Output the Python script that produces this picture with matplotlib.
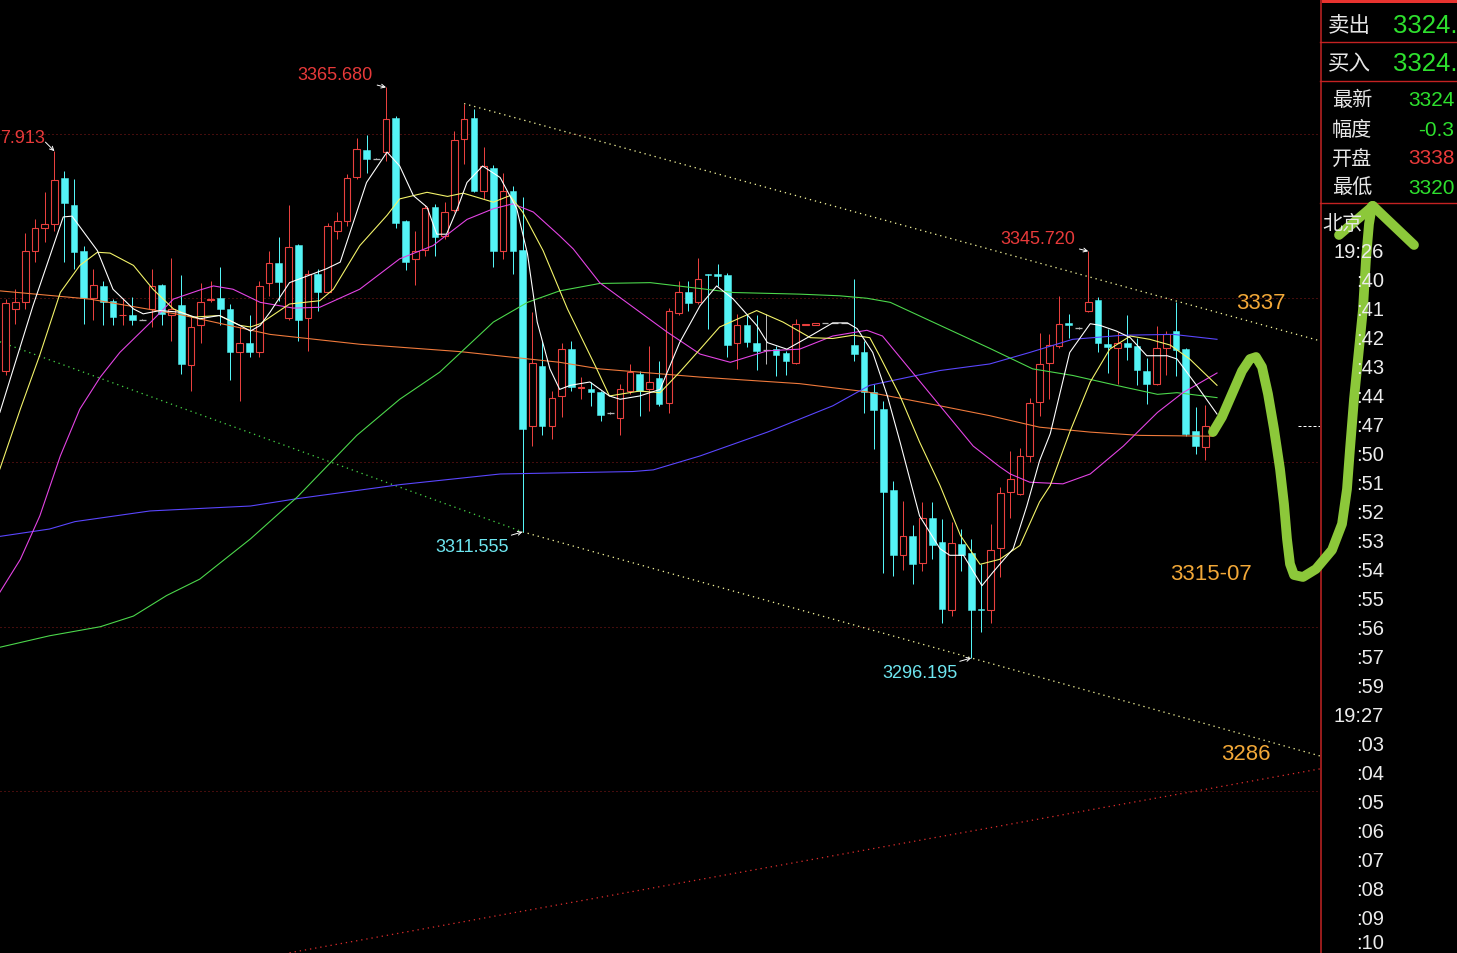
import matplotlib
matplotlib.use("Agg")
import matplotlib.pyplot as plt
import numpy as np

plt.rcParams['font.family'] = ['Liberation Sans', 'Noto Sans CJK SC', 'DejaVu Sans']

# ---------------- candle data (one bar per minute slot) ----------------
opens = [3331.1, 3338.7, 3339.5, 3345.8, 3348.6, 3349.0, 3354.6, 3351.4, 3345.7, 3340.0,
         3341.5, 3339.7, 3337.9, 3338.0, 3337.4, 3338.7, 3341.6, 3338.0, 3339.2, 3331.9,
         3336.7, 3339.8, 3340.0, 3338.7, 3333.4, 3334.6, 3333.4, 3341.9, 3344.3, 3337.6,
         3346.5, 3337.6, 3343.0, 3340.8, 3348.2, 3349.4, 3354.8, 3358.1, 3357.0, 3357.8,
         3361.9, 3349.4, 3344.8, 3345.9, 3351.1, 3347.6, 3350.7, 3359.4, 3362.0, 3353.0,
         3355.9, 3345.7, 3353.0, 3345.9, 3324.5, 3331.8, 3324.4, 3328.1, 3333.8, 3329.1,
         3329.0, 3328.6, 3326.0, 3325.4, 3328.7, 3330.8, 3328.9, 3330.3, 3327.2, 3338.2,
         3340.8, 3339.6, 3342.9, 3342.9, 3342.8, 3334.5, 3336.8, 3334.5, 3333.7, 3333.8,
         3333.3, 3332.1, 3336.8, 3336.8, 3337.0, 3337.0, 3337.0, 3334.3, 3333.5, 3328.6,
         3326.5, 3316.6, 3308.7, 3311.0, 3307.8, 3313.2, 3310.3, 3302.0, 3310.1, 3309.0,
         3302.1, 3302.0, 3309.6, 3316.4, 3316.2, 3320.8, 3327.4, 3332.1, 3334.2, 3337.0,
         3336.4, 3338.4, 3339.8, 3334.4, 3334.0, 3334.5, 3334.2, 3331.2, 3329.6, 3333.9,
         3336.0, 3333.8, 3323.8, 3321.9]

highs = [3339.9, 3341.1, 3348.0, 3349.6, 3352.9, 3357.913, 3355.5, 3354.5, 3346.4, 3343.6,
         3342.1, 3339.9, 3340.0, 3340.2, 3337.5, 3343.6, 3341.7, 3344.9, 3342.8, 3337.7,
         3341.9, 3342.1, 3343.8, 3339.3, 3336.5, 3337.9, 3342.1, 3345.7, 3347.5, 3351.3,
         3346.6, 3343.5, 3343.6, 3349.2, 3350.5, 3355.1, 3359.5, 3359.9, 3357.1, 3365.680,
         3362.2, 3349.5, 3348.2, 3351.3, 3351.5, 3351.7, 3360.4, 3363.7, 3363.0, 3358.4,
         3356.2, 3355.3, 3353.7, 3352.3, 3338.3, 3334.8, 3328.7, 3334.6, 3334.8, 3330.4,
         3329.8, 3328.7, 3326.1, 3329.6, 3332.0, 3331.1, 3334.2, 3332.4, 3338.8, 3342.1,
         3342.1, 3344.9, 3343.0, 3344.2, 3343.1, 3338.1, 3338.1, 3337.9, 3338.1, 3334.2,
         3333.6, 3337.5, 3336.9, 3337.0, 3337.0, 3337.0, 3337.0, 3342.3, 3334.8, 3329.6,
         3327.5, 3317.8, 3315.3, 3312.4, 3315.2, 3315.2, 3313.1, 3312.7, 3311.9, 3310.7,
         3307.6, 3312.5, 3317.0, 3321.4, 3321.8, 3327.9, 3335.8, 3335.6, 3340.3, 3338.1,
         3336.5, 3345.720, 3340.1, 3336.3, 3335.9, 3337.9, 3335.2, 3332.7, 3336.6, 3336.0,
         3339.5, 3334.0, 3326.8, 3327.0]

lows = [3330.6, 3336.9, 3338.7, 3344.4, 3346.8, 3348.2, 3344.4, 3343.6, 3336.9, 3337.3,
        3336.7, 3336.7, 3336.7, 3336.7, 3337.3, 3336.5, 3336.7, 3334.8, 3330.8, 3328.7,
        3334.6, 3339.6, 3336.7, 3330.0, 3327.5, 3332.8, 3332.8, 3340.3, 3339.7, 3337.3,
        3334.8, 3333.6, 3338.5, 3340.7, 3347.2, 3348.8, 3354.5, 3355.3, 3356.9, 3356.7,
        3348.5, 3343.4, 3341.6, 3345.2, 3345.2, 3347.2, 3350.5, 3356.3, 3352.9, 3352.1,
        3343.8, 3344.8, 3343.0, 3311.555, 3322.0, 3323.3, 3322.8, 3325.5, 3328.7, 3327.7,
        3326.9, 3325.1, 3325.9, 3323.3, 3328.3, 3325.7, 3326.3, 3326.9, 3326.0, 3337.9,
        3338.4, 3339.3, 3336.3, 3341.5, 3332.8, 3331.4, 3334.1, 3331.3, 3332.0, 3330.5,
        3330.7, 3332.0, 3336.8, 3336.8, 3337.0, 3337.0, 3337.0, 3332.4, 3326.0, 3321.6,
        3306.5, 3306.2, 3306.9, 3305.2, 3306.8, 3308.3, 3300.5, 3301.3, 3306.8, 3296.195,
        3299.4, 3300.5, 3306.0, 3313.2, 3316.0, 3320.0, 3325.7, 3327.7, 3334.0, 3335.2,
        3336.3, 3338.3, 3333.5, 3330.9, 3329.6, 3332.5, 3329.4, 3327.1, 3329.4, 3330.6,
        3330.5, 3323.2, 3321.0, 3320.3]

closes = [3339.4, 3339.5, 3345.7, 3348.6, 3349.0, 3354.4, 3351.6, 3345.6, 3340.0, 3341.6,
          3339.6, 3337.7, 3338.0, 3337.3, 3337.4, 3341.5, 3338.1, 3338.7, 3332.0, 3336.5,
          3339.6, 3339.9, 3338.7, 3333.4, 3334.5, 3333.4, 3341.5, 3344.3, 3342.0, 3346.3,
          3337.3, 3343.0, 3340.8, 3348.8, 3349.4, 3354.7, 3358.2, 3357.0, 3357.0, 3361.8,
          3349.2, 3344.4, 3345.7, 3351.0, 3347.4, 3350.5, 3359.3, 3361.8, 3353.0, 3356.1,
          3345.7, 3353.0, 3345.8, 3324.1, 3332.1, 3324.5, 3327.9, 3333.8, 3329.2, 3329.2,
          3328.6, 3325.8, 3326.0, 3328.9, 3331.0, 3328.7, 3329.8, 3327.1, 3338.4, 3340.8,
          3339.4, 3342.3, 3342.8, 3342.7, 3334.3, 3336.7, 3334.7, 3333.6, 3333.7, 3333.1,
          3332.3, 3336.9, 3336.9, 3337.0, 3337.0, 3337.0, 3337.0, 3333.2, 3328.6, 3326.4,
          3316.4, 3308.7, 3311.0, 3307.6, 3313.2, 3309.9, 3302.1, 3310.2, 3308.7, 3302.0,
          3302.0, 3309.4, 3316.3, 3318.0, 3320.8, 3327.2, 3332.0, 3334.3, 3336.9, 3336.8,
          3336.4, 3339.6, 3334.6, 3334.1, 3334.6, 3334.1, 3331.3, 3329.6, 3334.0, 3335.6,
          3333.7, 3323.5, 3322.0, 3324.4]

# ---------------- moving averages (bar position, value) ----------------
ma5_x = [-0.6, 2.8, 5.9, 6.8, 9.4, 11.0, 13.1, 14.1, 15.8, 17.9, 19.9, 21.9, 24.0, 25.1, 26.1,
         27.1, 29.1, 30.9, 32.9, 34.3, 37.0, 39.1, 40.4, 41.8, 43.2, 44.2, 45.2, 46.3, 47.3,
         48.9, 50.7, 52.4, 53.5, 54.5, 55.8, 56.8, 57.9, 59.9, 61.9, 63.0, 65.0, 67.1, 69.1,
         71.2, 72.9, 74.6, 77.0, 78.1, 80.1, 82.2, 84.8, 86.3, 87.3, 88.9, 90.4, 91.7, 93.7,
         95.8, 96.8, 98.2, 100.1, 101.2, 103.3, 104.7, 106.0, 107.1, 109.1, 111.2, 112.2,
         113.9, 115.3, 117.0, 119.1, 120.1, 122.1, 124.2]
ma5_v = [3326.1, 3339.1, 3349.9, 3350.0, 3345.8, 3341.1, 3338.7, 3338.1, 3338.5, 3338.3,
         3337.5, 3337.9, 3336.7, 3336.0, 3336.7, 3338.3, 3341.9, 3342.7, 3343.6, 3344.4,
         3354.1, 3357.8, 3356.1, 3352.5, 3351.1, 3347.8, 3347.8, 3350.9, 3354.1, 3356.1,
         3354.7, 3350.9, 3345.4, 3337.1, 3331.4, 3328.9, 3329.4, 3329.8, 3328.1, 3327.7,
         3328.1, 3328.9, 3334.6, 3339.1, 3341.5, 3339.9, 3336.7, 3334.6, 3333.8, 3335.2,
         3337.0, 3337.0, 3336.3, 3333.4, 3328.1, 3322.5, 3313.5, 3309.5, 3308.7, 3308.7,
         3305.0, 3306.6, 3309.5, 3314.7, 3320.2, 3323.5, 3333.4, 3336.9, 3336.7, 3336.0,
         3335.2, 3333.0, 3333.0, 3332.6, 3329.4, 3325.9]

ma10_x = [-0.6, 1.5, 3.5, 5.6, 7.6, 9.4, 10.7, 13.1, 15.1, 17.2, 19.2, 21.9, 24.0, 25.1, 26.1,
          27.1, 29.1, 32.2, 33.6, 36.3, 39.1, 40.4, 43.2, 45.3, 46.9, 50.0, 51.7, 53.0, 55.1,
          57.6, 60.6, 61.9, 65.0, 67.1, 69.1, 71.2, 73.2, 77.0, 79.7, 82.5, 84.8, 86.9, 88.6,
          89.6, 91.7, 93.7, 95.8, 97.9, 99.9, 101.9, 104.0, 106.0, 107.1, 109.1, 111.2,
          113.2, 115.3, 117.3, 119.4, 121.4, 124.2]
ma10_v = [3319.2, 3326.5, 3333.1, 3340.7, 3344.0, 3345.6, 3345.5, 3344.0, 3341.1, 3338.7,
          3337.7, 3337.9, 3336.7, 3336.5, 3336.9, 3337.7, 3339.3, 3339.7, 3341.1, 3346.4,
          3350.1, 3352.1, 3352.9, 3352.4, 3352.8, 3351.7, 3352.5, 3350.5, 3345.8, 3338.7,
          3331.4, 3328.1, 3328.7, 3328.5, 3331.0, 3333.8, 3336.5, 3338.5, 3337.1, 3335.2,
          3335.1, 3335.5, 3335.2, 3333.0, 3328.1, 3322.5, 3317.2, 3311.1, 3307.6, 3308.2,
          3309.9, 3315.2, 3317.2, 3323.7, 3329.8, 3333.8, 3335.4, 3335.0, 3334.3, 3332.6,
          3329.4]

ma20_x = [-0.6, 1.5, 3.5, 5.6, 7.6, 9.7, 11.7, 14.8, 17.2, 19.9, 21.3, 23.3, 26.1, 29.5, 32.2,
          36.3, 40.4, 43.8, 47.3, 50.0, 52.0, 54.1, 56.8, 58.2, 60.9, 67.8, 71.2, 74.3, 78.1,
          81.4, 84.8, 88.3, 89.9, 92.4, 95.8, 99.2, 101.9, 103.0, 105.0, 108.4, 111.2, 114.6,
          118.1, 120.7, 124.2]
ma20_v = [3304.2, 3308.2, 3313.5, 3320.8, 3326.5, 3330.4, 3333.4, 3337.0, 3339.9, 3341.0,
          3341.5, 3341.1, 3339.5, 3338.8, 3338.9, 3341.1, 3344.8, 3346.4, 3349.6, 3350.9,
          3351.5, 3350.5, 3347.6, 3346.0, 3341.9, 3335.9, 3333.2, 3332.2, 3333.6, 3333.8,
          3335.4, 3336.1, 3335.4, 3331.8, 3326.9, 3322.0, 3319.5, 3318.6, 3317.6, 3317.4,
          3318.6, 3322.0, 3326.1, 3328.5, 3330.9]

ma60_x = [-0.6, 4.5, 9.7, 13.1, 16.5, 19.9, 25.1, 29.9, 36.0, 40.4, 44.5, 50.0, 53.5, 56.8,
          60.9, 66.1, 74.6, 81.4, 85.5, 88.3, 90.7, 95.8, 100.9, 105.3, 109.4, 114.6, 118.1,
          120.1, 124.2]
ma60_v = [3297.5, 3298.9, 3300.0, 3301.3, 3303.8, 3305.8, 3310.7, 3315.8, 3323.3, 3327.7,
          3331.0, 3337.1, 3339.5, 3340.9, 3341.8, 3341.9, 3340.7, 3340.5, 3340.3, 3340.0,
          3339.5, 3336.7, 3333.9, 3331.4, 3330.6, 3329.2, 3328.3, 3328.5, 3327.9]

ma120_x = [-0.6, 4.5, 7.1, 14.8, 19.9, 25.1, 29.9, 40.4, 50.7, 64.3, 66.4, 71.2, 78.1, 84.8,
           88.6, 95.8, 100.9, 105.0, 109.4, 114.6, 119.7, 124.2]
ma120_v = [3311.0, 3311.9, 3312.8, 3314.1, 3314.4, 3314.7, 3315.6, 3317.3, 3318.6, 3318.9,
           3319.1, 3320.8, 3323.7, 3326.9, 3329.4, 3331.2, 3332.0, 3333.4, 3335.0, 3335.5,
           3335.6, 3335.0]

ma250_x = [-0.6, 8.6, 17.9, 27.1, 36.3, 46.6, 56.8, 60.9, 71.2, 81.4, 88.3, 95.8, 100.9,
           106.0, 111.2, 116.3, 123.8]
ma250_v = [3340.9, 3339.9, 3338.0, 3335.6, 3334.4, 3333.5, 3332.2, 3331.4, 3330.4, 3329.6,
           3328.6, 3326.9, 3325.7, 3324.3, 3323.7, 3323.3, 3323.2]

grid_levels = [3360, 3340, 3320, 3300, 3280]
last_price = 3324.44

# marked extremes: (bar, price, text shown)
edge_mark = (5, 3357.913, '7.913')          # label runs off the left border
peak_marks = [(39, 3365.680, '3365.680'), (111, 3345.720, '3345.720')]
trough_marks = [(53, 3311.555, '3311.555'), (99, 3296.195, '3296.195')]

# hand-drawn trend lines: ((bar0, price0), (bar1, price1))
upper_channel = ((47, 3363.7), (134.8, 3334.8))
lower_channel = ((53, 3311.555), (134.8, 3284.25))
green_trend = ((-0.6, 3334.7), (53, 3311.555))
red_trend = ((29.1, 3260.3), (134.8, 3282.7))

# quote panel (values run past the panel's right border)
quote_big = [('卖出', '3324.'), ('买入', '3324.')]
quote_small = [('最新', '3324', 'g'), ('幅度', '-0.3', 'g'), ('开盘', '3338', 'r'), ('最低', '3320', 'g')]
time_labels = ['19:26', ':40', ':41', ':42', ':43', ':44', ':47', ':50', ':51', ':52', ':53',
               ':54', ':55', ':56', ':57', ':59', '19:27', ':03', ':04', ':05', ':06', ':07',
               ':08', ':09', ':10']

# ---------------- figure ----------------
W, H = 1457, 954
fig = plt.figure(figsize=(W / 100, H / 100), dpi=100, facecolor='black')
ax = fig.add_axes([0, 0, 1320 / W, 1])
ax.set_facecolor('black')
ax.set_xlim(-0.584, 134.76)
ax.set_ylim(3260.27, 3376.44)
ax.axis('off')

RED = '#e8403e'
CYAN = '#54f4f6'
GRAY = '#b4b4b4'
PX = 0.72  # one pixel in points

for lvl in grid_levels:
    ax.axhline(lvl, color='#8a1a1a', lw=PX, ls=(0, (1, 3)), zorder=1)

# trend lines
for (p0, p1), col in [(upper_channel, '#f4f49a'), (lower_channel, '#f4f49a'),
                      (green_trend, '#46d046'), (red_trend, '#d82c2c')]:
    ax.plot([p0[0], p1[0]], [p0[1], p1[1]], color=col, lw=PX * 1.3, ls=(0, (1, 3)), zorder=2)

# candles
x = np.arange(len(opens))
o, h, l, c = (np.array(a) for a in (opens, highs, lows, closes))
up = c > o + 0.05
dn = c < o - 0.05
fl = ~(up | dn)
bw = 0.68

ax.vlines(x[dn], l[dn], h[dn], color=CYAN, lw=PX, zorder=3)
ax.bar(x[dn], np.maximum((o - c)[dn], 0.12), bottom=c[dn], width=bw,
       color=CYAN, edgecolor=CYAN, lw=PX * 0.5, zorder=4)

ax.vlines(x[up], c[up], h[up], color=RED, lw=PX, zorder=3)
ax.vlines(x[up], l[up], o[up], color=RED, lw=PX, zorder=3)
ax.bar(x[up], np.maximum((c - o)[up], 0.12), bottom=o[up], width=bw,
       facecolor='black', edgecolor=RED, lw=PX * 1.1, zorder=4)

ax.vlines(x[fl], l[fl], h[fl], color=GRAY, lw=PX, zorder=3)
ax.hlines(c[fl], x[fl] - bw / 2, x[fl] + bw / 2, color=GRAY, lw=PX * 1.3, zorder=4)

# moving averages
for mx, mv, col in [(ma250_x, ma250_v, '#f07a3c'), (ma120_x, ma120_v, '#5a46ff'),
                    (ma60_x, ma60_v, '#4cd84c'), (ma20_x, ma20_v, '#e444e4'),
                    (ma10_x, ma10_v, '#f4f46a'), (ma5_x, ma5_v, '#ffffff')]:
    ax.plot(mx, mv, color=col, lw=PX * 1.1, zorder=5, solid_joinstyle='round')

# last price marker
ax.hlines(last_price, 132.5, 134.76, color='white', lw=PX, ls=(0, (3, 2)), zorder=5)

# extreme labels
arrow_style = dict(arrowstyle='->', color='white', lw=0.7, shrinkA=1, shrinkB=0, mutation_scale=7)
bx, pv, txt = edge_mark
ax.annotate('', xy=(bx, pv), xytext=(-10, 10), textcoords='offset pixels',
            arrowprops=arrow_style, zorder=6)
ax.text(0.0, 3359.6, txt, color='#e83a3a', fontsize=13, ha='left', va='center',
        transform=ax.get_yaxis_transform(), zorder=6)
for bx, pv, txt in peak_marks:
    ax.annotate(txt, xy=(bx, pv), xytext=(-13, 13), textcoords='offset pixels',
                ha='right', va='center', color='#e83a3a', fontsize=13,
                arrowprops=arrow_style, zorder=6)
for bx, pv, txt in trough_marks:
    ax.annotate(txt, xy=(bx, pv), xytext=(-14, -15), textcoords='offset pixels',
                ha='right', va='center', color='#6ee6f0', fontsize=13,
                arrowprops=arrow_style, zorder=6)

# target levels written on the chart
ORANGE = '#f2a838'
ax.text(128.7, 3339.5, '3337', color=ORANGE, fontsize=16, ha='center', va='center', zorder=6)
ax.text(123.6, 3306.5, '3315-07', color=ORANGE, fontsize=16, ha='center', va='center', zorder=6)
ax.text(127.2, 3284.6, '3286', color=ORANGE, fontsize=16, ha='center', va='center', zorder=6)

# ---------------- quote panel (pixel space) ----------------
ov = fig.add_axes([0, 0, 1, 1])
ov.set_xlim(0, W)
ov.set_ylim(H, 0)
ov.axis('off')
ov.patch.set_alpha(0)

PANEL_RED = '#c42222'
ov.plot([1320.5, 1320.5], [0, H], color='#9a1c1c', lw=1.4)
ov.fill_between([1320, W], 0, 4, color='#e8332f', lw=0)
for yy in (43, 82, 204):
    ov.plot([1320, W], [yy, yy], color=PANEL_RED, lw=1.0)

GREEN_TXT = '#2ee02e'
for k, (lab, val) in enumerate(quote_big):
    yy = 26 + 38 * k
    ov.text(1328, yy, lab, color='#e6e6e6', fontsize=15.5, va='center', ha='left',
            family=['Noto Sans CJK SC'])
    ov.text(1393, yy, val, color=GREEN_TXT, fontsize=18.5, va='center', ha='left')

for k, (lab, val, cc) in enumerate(quote_small):
    yy = 101 + 29 * k
    ov.text(1332, yy, lab, color='#e6e6e6', fontsize=14.5, va='center', ha='left',
            family=['Noto Sans CJK SC'])
    if val.startswith('-'):
        ov.text(1454, yy, val, color=GREEN_TXT, fontsize=15, va='center', ha='right')
    else:
        ov.text(1408, yy, val, color=GREEN_TXT if cc == 'g' else '#e83a3a', fontsize=15,
                va='center', ha='left')

ov.text(1322, 224, '北京', color='#e6e6e6', fontsize=14.5, va='center', ha='left',
        family=['Noto Sans CJK SC'])
for k, t in enumerate(time_labels):
    ov.text(1384, min(253 + 29 * k, 944), t, color='#ececec', fontsize=14.5,
            va='center', ha='right')

# hand-drawn forecast arrow
stroke_x = [1213, 1222, 1232, 1242, 1250, 1256, 1262, 1268, 1274, 1280, 1284, 1287, 1290,
            1294, 1303, 1316, 1332, 1342, 1347, 1350, 1354, 1358, 1363, 1366, 1369, 1372]
stroke_y = [433, 418, 395, 372, 360, 358, 368, 395, 430, 470, 505, 540, 565,
            576, 578, 570, 551, 525, 490, 450, 400, 360, 310, 260, 225, 207]
LIME = '#8cc83a'
ov.plot(stroke_x, stroke_y, color=LIME, lw=7, solid_capstyle='round', solid_joinstyle='round')
ov.plot([1339, 1373], [236, 207], color=LIME, lw=7, solid_capstyle='round')
ov.plot([1373, 1414], [207, 246], color=LIME, lw=7, solid_capstyle='round')

fig.savefig('out.png', dpi=100, facecolor='black')
